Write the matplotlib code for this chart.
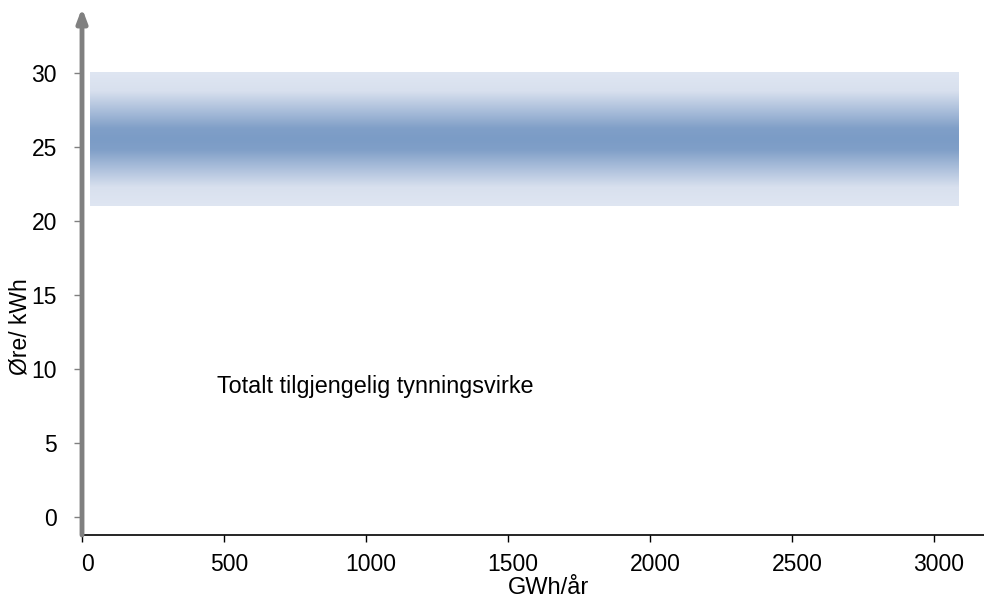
import numpy as np
import matplotlib.pyplot as plt
import matplotlib.transforms as mtransforms
from matplotlib.colors import LinearSegmentedColormap

plt.rcParams['font.family'] = ['Liberation Sans', 'DejaVu Sans']

# band of price range for available thinning wood
band_x = [28, 3085]
band_y = [21, 30]
x_ticks = [0, 500, 1000, 1500, 2000, 2500, 3000]
y_ticks = [0, 5, 10, 15, 20, 25, 30]
label_text = "Totalt tilgjengelig tynningsvirke"
label_pos = (475, 8.85)

fig = plt.figure(figsize=(9.84, 6.03), dpi=100)
ax = fig.add_axes([82 / 984, 1 - 535 / 603, 1 - 82 / 984, (535 - 8) / 603])
ax.set_xlim(0, 3176)
ax.set_ylim(-1.2, 34.4)

# vertical gradient: light - dark blue - light
cmap = LinearSegmentedColormap.from_list(
    "band",
    [(0.0, "#dfe6f2"), (0.14, "#d8e0ee"), (0.42, "#809fc8"),
     (0.5, "#7b9cc6"), (0.58, "#809fc8"), (0.86, "#d8e0ee"), (1.0, "#dfe6f2")])
grad = np.linspace(0, 1, 256).reshape(-1, 1)
ax.imshow(grad, extent=(band_x[0], band_x[1], band_y[0], band_y[1]),
          aspect='auto', cmap=cmap, origin='lower', interpolation='bicubic', zorder=1)

ax.text(label_pos[0], label_pos[1], label_text, fontsize=16.8, va='center', ha='left')

for s in ['top', 'right', 'left']:
    ax.spines[s].set_visible(False)
ax.spines['bottom'].set_color('black')
ax.spines['bottom'].set_linewidth(1.2)

# y axis drawn as a thick gray arrow
ax.annotate('', xy=(0, 34.4), xytext=(0, -1.2), xycoords='data',
            arrowprops=dict(arrowstyle='-|>,head_length=0.8,head_width=0.3',
                            color='#808080', lw=3.5, shrinkA=0, shrinkB=0),
            annotation_clip=False, zorder=5)

ax.set_xticks(x_ticks)
ax.set_yticks(y_ticks)
ax.tick_params(axis='x', length=5, width=1, color='black', labelsize=16.5, pad=8)
ax.tick_params(axis='y', length=6, width=1, color='#808080', labelsize=16.5, pad=12)

# x tick labels sit a little right of their ticks in the original
shift = mtransforms.ScaledTranslation(5 / 100, 0, fig.dpi_scale_trans)
for t in ax.get_xticklabels():
    t.set_transform(t.get_transform() + shift)

ax.set_xlabel("GWh/år", fontsize=17, va='center')
ax.xaxis.set_label_coords(0.517, -0.1)
ax.set_ylabel("Øre/ kWh", fontsize=16.5, va='center')
ax.yaxis.set_label_coords(-0.069, 0.395)

fig.savefig("out.png", dpi=100)
